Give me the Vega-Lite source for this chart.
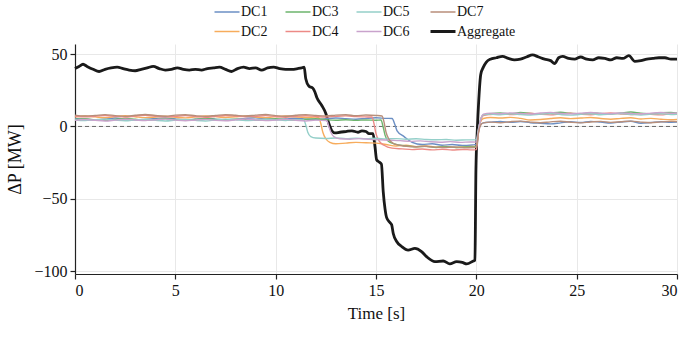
{
  "$schema": "https://vega.github.io/schema/vega-lite/v6.json",
  "width": 602,
  "height": 230,
  "autosize": {"type": "none"},
  "padding": {"left": 75, "top": 44, "right": 13, "bottom": 76},
  "background": "white",
  "datasets": {
    "power": [
      {"t":0,"s":"Aggregate","v":40},{"t":0.2,"s":"Aggregate","v":41.5},{"t":0.4,"s":"Aggregate","v":43},{"t":0.6,"s":"Aggregate","v":41.5},{"t":0.9,"s":"Aggregate","v":39.5},{"t":1.2,"s":"Aggregate","v":38},{"t":1.5,"s":"Aggregate","v":39.5},{"t":1.8,"s":"Aggregate","v":40.5},{"t":2.1,"s":"Aggregate","v":41},{"t":2.4,"s":"Aggregate","v":40},{"t":2.7,"s":"Aggregate","v":39},{"t":3.0,"s":"Aggregate","v":38.5},{"t":3.3,"s":"Aggregate","v":39.5},{"t":3.6,"s":"Aggregate","v":40.5},{"t":3.9,"s":"Aggregate","v":41.5},{"t":4.2,"s":"Aggregate","v":40},{"t":4.5,"s":"Aggregate","v":39},{"t":4.8,"s":"Aggregate","v":39.5},{"t":5.1,"s":"Aggregate","v":40.5},{"t":5.4,"s":"Aggregate","v":39.5},{"t":5.7,"s":"Aggregate","v":39},{"t":6.0,"s":"Aggregate","v":39.5},{"t":6.3,"s":"Aggregate","v":39},{"t":6.6,"s":"Aggregate","v":40},{"t":6.9,"s":"Aggregate","v":40.5},{"t":7.2,"s":"Aggregate","v":41},{"t":7.5,"s":"Aggregate","v":39.5},{"t":7.8,"s":"Aggregate","v":38},{"t":8.1,"s":"Aggregate","v":40},{"t":8.4,"s":"Aggregate","v":41},{"t":8.7,"s":"Aggregate","v":40},{"t":9.0,"s":"Aggregate","v":40.5},{"t":9.3,"s":"Aggregate","v":39},{"t":9.6,"s":"Aggregate","v":40.5},{"t":9.9,"s":"Aggregate","v":41},{"t":10.2,"s":"Aggregate","v":40},{"t":10.5,"s":"Aggregate","v":39.5},{"t":10.8,"s":"Aggregate","v":39.5},{"t":11.1,"s":"Aggregate","v":40},{"t":11.3,"s":"Aggregate","v":40.5},{"t":11.42,"s":"Aggregate","v":41},{"t":11.5,"s":"Aggregate","v":33},{"t":11.65,"s":"Aggregate","v":28},{"t":11.85,"s":"Aggregate","v":26.5},{"t":11.95,"s":"Aggregate","v":24},{"t":12.05,"s":"Aggregate","v":20},{"t":12.3,"s":"Aggregate","v":14.5},{"t":12.5,"s":"Aggregate","v":9},{"t":12.65,"s":"Aggregate","v":2},{"t":12.8,"s":"Aggregate","v":-3},{"t":12.95,"s":"Aggregate","v":-4.5},{"t":13.2,"s":"Aggregate","v":-4},{"t":13.5,"s":"Aggregate","v":-3.5},{"t":13.8,"s":"Aggregate","v":-3},{"t":14.1,"s":"Aggregate","v":-4},{"t":14.3,"s":"Aggregate","v":-3},{"t":14.5,"s":"Aggregate","v":-3.5},{"t":14.65,"s":"Aggregate","v":-5},{"t":14.85,"s":"Aggregate","v":-5},{"t":14.95,"s":"Aggregate","v":-14},{"t":15.03,"s":"Aggregate","v":-23},{"t":15.15,"s":"Aggregate","v":-24.5},{"t":15.27,"s":"Aggregate","v":-26},{"t":15.36,"s":"Aggregate","v":-45},{"t":15.45,"s":"Aggregate","v":-57},{"t":15.53,"s":"Aggregate","v":-63},{"t":15.7,"s":"Aggregate","v":-66.5},{"t":15.78,"s":"Aggregate","v":-68},{"t":15.86,"s":"Aggregate","v":-74},{"t":16.03,"s":"Aggregate","v":-79.5},{"t":16.28,"s":"Aggregate","v":-83},{"t":16.6,"s":"Aggregate","v":-85.5},{"t":16.94,"s":"Aggregate","v":-84.3},{"t":17.27,"s":"Aggregate","v":-86.5},{"t":17.52,"s":"Aggregate","v":-90},{"t":17.94,"s":"Aggregate","v":-93.5},{"t":18.35,"s":"Aggregate","v":-93},{"t":18.68,"s":"Aggregate","v":-95},{"t":19.02,"s":"Aggregate","v":-93.5},{"t":19.3,"s":"Aggregate","v":-94},{"t":19.52,"s":"Aggregate","v":-95},{"t":19.85,"s":"Aggregate","v":-93},{"t":19.93,"s":"Aggregate","v":-92.5},{"t":19.98,"s":"Aggregate","v":-30},{"t":20.05,"s":"Aggregate","v":-2},{"t":20.12,"s":"Aggregate","v":18},{"t":20.22,"s":"Aggregate","v":36},{"t":20.35,"s":"Aggregate","v":41},{"t":20.5,"s":"Aggregate","v":44.5},{"t":20.7,"s":"Aggregate","v":46.5},{"t":21.0,"s":"Aggregate","v":47.5},{"t":21.3,"s":"Aggregate","v":48.5},{"t":21.6,"s":"Aggregate","v":47},{"t":21.9,"s":"Aggregate","v":46},{"t":22.2,"s":"Aggregate","v":46.5},{"t":22.5,"s":"Aggregate","v":48},{"t":22.8,"s":"Aggregate","v":49.5},{"t":23.1,"s":"Aggregate","v":48},{"t":23.4,"s":"Aggregate","v":46.5},{"t":23.7,"s":"Aggregate","v":45.5},{"t":23.9,"s":"Aggregate","v":43.5},{"t":24.1,"s":"Aggregate","v":47.5},{"t":24.3,"s":"Aggregate","v":48.5},{"t":24.6,"s":"Aggregate","v":47},{"t":24.9,"s":"Aggregate","v":46.5},{"t":25.2,"s":"Aggregate","v":48},{"t":25.5,"s":"Aggregate","v":46.5},{"t":25.8,"s":"Aggregate","v":46},{"t":26.1,"s":"Aggregate","v":47.5},{"t":26.4,"s":"Aggregate","v":47},{"t":26.7,"s":"Aggregate","v":46},{"t":27.0,"s":"Aggregate","v":47.5},{"t":27.3,"s":"Aggregate","v":47},{"t":27.6,"s":"Aggregate","v":49},{"t":27.9,"s":"Aggregate","v":45},{"t":28.2,"s":"Aggregate","v":45.5},{"t":28.5,"s":"Aggregate","v":46.5},{"t":28.8,"s":"Aggregate","v":47},{"t":29.1,"s":"Aggregate","v":47.5},{"t":29.4,"s":"Aggregate","v":47.5},{"t":29.7,"s":"Aggregate","v":46.5},{"t":30,"s":"Aggregate","v":46.5},

      {"t":0,"s":"DC1","v":5.5},{"t":0.5,"s":"DC1","v":5},{"t":1,"s":"DC1","v":4.5},{"t":1.5,"s":"DC1","v":5.2},{"t":2,"s":"DC1","v":5.8},{"t":2.5,"s":"DC1","v":5},{"t":3,"s":"DC1","v":4.4},{"t":3.5,"s":"DC1","v":4.8},{"t":4,"s":"DC1","v":5.5},{"t":4.5,"s":"DC1","v":5.9},{"t":5,"s":"DC1","v":5.2},{"t":5.5,"s":"DC1","v":4.6},{"t":6,"s":"DC1","v":5},{"t":6.5,"s":"DC1","v":5.6},{"t":7,"s":"DC1","v":5.1},{"t":7.5,"s":"DC1","v":4.5},{"t":8,"s":"DC1","v":4.9},{"t":8.5,"s":"DC1","v":5.6},{"t":9,"s":"DC1","v":6},{"t":9.5,"s":"DC1","v":5.3},{"t":10,"s":"DC1","v":4.8},{"t":10.5,"s":"DC1","v":5.2},{"t":11,"s":"DC1","v":5.7},{"t":11.5,"s":"DC1","v":5.1},{"t":12,"s":"DC1","v":4.7},{"t":12.5,"s":"DC1","v":5.3},{"t":13,"s":"DC1","v":5.8},{"t":13.5,"s":"DC1","v":5.4},{"t":14,"s":"DC1","v":5},{"t":14.5,"s":"DC1","v":5.6},{"t":15,"s":"DC1","v":6},{"t":15.5,"s":"DC1","v":5.6},{"t":15.8,"s":"DC1","v":5.5},{"t":15.95,"s":"DC1","v":1},{"t":16.05,"s":"DC1","v":-3},{"t":16.4,"s":"DC1","v":-7},{"t":16.8,"s":"DC1","v":-11},{"t":17.3,"s":"DC1","v":-12.5},{"t":17.8,"s":"DC1","v":-12},{"t":18.3,"s":"DC1","v":-13},{"t":18.8,"s":"DC1","v":-12.5},{"t":19.3,"s":"DC1","v":-13.2},{"t":19.8,"s":"DC1","v":-12.8},{"t":20,"s":"DC1","v":-12.5},{"t":20.1,"s":"DC1","v":-4},{"t":20.2,"s":"DC1","v":1},{"t":20.35,"s":"DC1","v":2.5},{"t":20.7,"s":"DC1","v":3},{"t":21.2,"s":"DC1","v":3.5},{"t":21.7,"s":"DC1","v":2.8},{"t":22.2,"s":"DC1","v":3.4},{"t":22.7,"s":"DC1","v":2.6},{"t":23.2,"s":"DC1","v":2.2},{"t":23.7,"s":"DC1","v":1.8},{"t":24.2,"s":"DC1","v":2.5},{"t":24.7,"s":"DC1","v":3.2},{"t":25.2,"s":"DC1","v":2.7},{"t":25.7,"s":"DC1","v":3.5},{"t":26.2,"s":"DC1","v":3},{"t":26.7,"s":"DC1","v":2.4},{"t":27.2,"s":"DC1","v":3.1},{"t":27.7,"s":"DC1","v":3.6},{"t":28.2,"s":"DC1","v":2.2},{"t":28.7,"s":"DC1","v":2.7},{"t":29.2,"s":"DC1","v":3.3},{"t":29.7,"s":"DC1","v":2.9},{"t":30,"s":"DC1","v":3},

      {"t":0,"s":"DC2","v":6.5},{"t":0.5,"s":"DC2","v":7.2},{"t":1,"s":"DC2","v":6.6},{"t":1.5,"s":"DC2","v":6},{"t":2,"s":"DC2","v":6.8},{"t":2.5,"s":"DC2","v":7.4},{"t":3,"s":"DC2","v":6.7},{"t":3.5,"s":"DC2","v":6.1},{"t":4,"s":"DC2","v":6.5},{"t":4.5,"s":"DC2","v":7.1},{"t":5,"s":"DC2","v":6.4},{"t":5.5,"s":"DC2","v":5.9},{"t":6,"s":"DC2","v":6.6},{"t":6.5,"s":"DC2","v":7.3},{"t":7,"s":"DC2","v":6.8},{"t":7.5,"s":"DC2","v":6.2},{"t":8,"s":"DC2","v":6.7},{"t":8.5,"s":"DC2","v":7.2},{"t":9,"s":"DC2","v":6.5},{"t":9.5,"s":"DC2","v":6},{"t":10,"s":"DC2","v":6.8},{"t":10.5,"s":"DC2","v":7.3},{"t":11,"s":"DC2","v":6.6},{"t":11.5,"s":"DC2","v":6.2},{"t":12,"s":"DC2","v":6.5},{"t":12.15,"s":"DC2","v":6},{"t":12.25,"s":"DC2","v":2},{"t":12.35,"s":"DC2","v":-4},{"t":12.5,"s":"DC2","v":-8.5},{"t":12.7,"s":"DC2","v":-11},{"t":13,"s":"DC2","v":-12},{"t":13.5,"s":"DC2","v":-11.5},{"t":14,"s":"DC2","v":-11},{"t":14.5,"s":"DC2","v":-11.3},{"t":15,"s":"DC2","v":-11.5},{"t":15.5,"s":"DC2","v":-12.5},{"t":16,"s":"DC2","v":-13.5},{"t":16.5,"s":"DC2","v":-13},{"t":17,"s":"DC2","v":-14},{"t":17.5,"s":"DC2","v":-13.5},{"t":18,"s":"DC2","v":-14.3},{"t":18.5,"s":"DC2","v":-13.8},{"t":19,"s":"DC2","v":-14.5},{"t":19.5,"s":"DC2","v":-14},{"t":20,"s":"DC2","v":-13.8},{"t":20.1,"s":"DC2","v":-3},{"t":20.2,"s":"DC2","v":3},{"t":20.35,"s":"DC2","v":5.5},{"t":20.7,"s":"DC2","v":6.2},{"t":21.2,"s":"DC2","v":5.8},{"t":21.7,"s":"DC2","v":6.3},{"t":22.2,"s":"DC2","v":5.6},{"t":22.7,"s":"DC2","v":4.5},{"t":23.2,"s":"DC2","v":4.8},{"t":23.7,"s":"DC2","v":5.5},{"t":24.2,"s":"DC2","v":6},{"t":24.7,"s":"DC2","v":5.4},{"t":25.2,"s":"DC2","v":5.8},{"t":25.7,"s":"DC2","v":6.2},{"t":26.2,"s":"DC2","v":5.5},{"t":26.7,"s":"DC2","v":5},{"t":27.2,"s":"DC2","v":5.6},{"t":27.7,"s":"DC2","v":6},{"t":28.2,"s":"DC2","v":5.2},{"t":28.7,"s":"DC2","v":5.6},{"t":29.2,"s":"DC2","v":5},{"t":29.7,"s":"DC2","v":4.6},{"t":30,"s":"DC2","v":4.8},

      {"t":0,"s":"DC3","v":4.8},{"t":0.5,"s":"DC3","v":5.3},{"t":1,"s":"DC3","v":4.6},{"t":1.5,"s":"DC3","v":4.2},{"t":2,"s":"DC3","v":4.9},{"t":2.5,"s":"DC3","v":5.5},{"t":3,"s":"DC3","v":5},{"t":3.5,"s":"DC3","v":4.4},{"t":4,"s":"DC3","v":4.8},{"t":4.5,"s":"DC3","v":5.4},{"t":5,"s":"DC3","v":4.7},{"t":5.5,"s":"DC3","v":4.3},{"t":6,"s":"DC3","v":5},{"t":6.5,"s":"DC3","v":5.6},{"t":7,"s":"DC3","v":4.9},{"t":7.5,"s":"DC3","v":4.5},{"t":8,"s":"DC3","v":5.1},{"t":8.5,"s":"DC3","v":4.6},{"t":9,"s":"DC3","v":4.2},{"t":9.5,"s":"DC3","v":4.9},{"t":10,"s":"DC3","v":5.4},{"t":10.5,"s":"DC3","v":4.8},{"t":11,"s":"DC3","v":4.4},{"t":11.5,"s":"DC3","v":5},{"t":12,"s":"DC3","v":5.3},{"t":12.5,"s":"DC3","v":4.7},{"t":13,"s":"DC3","v":4.3},{"t":13.5,"s":"DC3","v":4.6},{"t":14,"s":"DC3","v":4.2},{"t":14.5,"s":"DC3","v":4.5},{"t":15,"s":"DC3","v":4.3},{"t":15.25,"s":"DC3","v":4.5},{"t":15.35,"s":"DC3","v":0},{"t":15.45,"s":"DC3","v":-6},{"t":15.6,"s":"DC3","v":-10},{"t":15.9,"s":"DC3","v":-12},{"t":16.5,"s":"DC3","v":-13.5},{"t":17,"s":"DC3","v":-14},{"t":17.5,"s":"DC3","v":-13.8},{"t":18,"s":"DC3","v":-14.5},{"t":18.5,"s":"DC3","v":-14},{"t":19,"s":"DC3","v":-14.6},{"t":19.5,"s":"DC3","v":-14.2},{"t":20,"s":"DC3","v":-14},{"t":20.1,"s":"DC3","v":-4},{"t":20.2,"s":"DC3","v":4},{"t":20.35,"s":"DC3","v":8},{"t":20.7,"s":"DC3","v":8.8},{"t":21.2,"s":"DC3","v":9.3},{"t":21.7,"s":"DC3","v":8.7},{"t":22.2,"s":"DC3","v":9.6},{"t":22.7,"s":"DC3","v":9},{"t":23.2,"s":"DC3","v":8.5},{"t":23.7,"s":"DC3","v":9.2},{"t":24.2,"s":"DC3","v":9.8},{"t":24.7,"s":"DC3","v":9.1},{"t":25.2,"s":"DC3","v":8.7},{"t":25.7,"s":"DC3","v":9.4},{"t":26.2,"s":"DC3","v":9},{"t":26.7,"s":"DC3","v":8.6},{"t":27.2,"s":"DC3","v":9.3},{"t":27.7,"s":"DC3","v":10},{"t":28.2,"s":"DC3","v":9.2},{"t":28.7,"s":"DC3","v":8.8},{"t":29.2,"s":"DC3","v":9.5},{"t":29.7,"s":"DC3","v":9.7},{"t":30,"s":"DC3","v":9.3},

      {"t":0,"s":"DC4","v":7.2},{"t":0.5,"s":"DC4","v":6.6},{"t":1,"s":"DC4","v":7.1},{"t":1.5,"s":"DC4","v":7.6},{"t":2,"s":"DC4","v":7},{"t":2.5,"s":"DC4","v":6.5},{"t":3,"s":"DC4","v":7.2},{"t":3.5,"s":"DC4","v":7.7},{"t":4,"s":"DC4","v":7.1},{"t":4.5,"s":"DC4","v":6.6},{"t":5,"s":"DC4","v":7},{"t":5.5,"s":"DC4","v":7.5},{"t":6,"s":"DC4","v":6.9},{"t":6.5,"s":"DC4","v":6.4},{"t":7,"s":"DC4","v":7},{"t":7.5,"s":"DC4","v":7.6},{"t":8,"s":"DC4","v":7.2},{"t":8.5,"s":"DC4","v":6.7},{"t":9,"s":"DC4","v":7.1},{"t":9.5,"s":"DC4","v":7.5},{"t":10,"s":"DC4","v":6.8},{"t":10.5,"s":"DC4","v":6.4},{"t":11,"s":"DC4","v":7},{"t":11.5,"s":"DC4","v":7.4},{"t":12,"s":"DC4","v":6.9},{"t":12.5,"s":"DC4","v":6.5},{"t":13,"s":"DC4","v":7},{"t":13.5,"s":"DC4","v":7.3},{"t":14,"s":"DC4","v":6.8},{"t":14.5,"s":"DC4","v":6.6},{"t":14.8,"s":"DC4","v":6.5},{"t":14.9,"s":"DC4","v":2},{"t":15,"s":"DC4","v":-5},{"t":15.15,"s":"DC4","v":-10},{"t":15.4,"s":"DC4","v":-13},{"t":15.8,"s":"DC4","v":-15},{"t":16.3,"s":"DC4","v":-15.5},{"t":16.8,"s":"DC4","v":-16},{"t":17.3,"s":"DC4","v":-15.6},{"t":17.8,"s":"DC4","v":-16.2},{"t":18.3,"s":"DC4","v":-15.8},{"t":18.8,"s":"DC4","v":-16.3},{"t":19.3,"s":"DC4","v":-15.9},{"t":19.8,"s":"DC4","v":-16.2},{"t":20,"s":"DC4","v":-16},{"t":20.1,"s":"DC4","v":-5},{"t":20.2,"s":"DC4","v":3},{"t":20.35,"s":"DC4","v":7.5},{"t":20.7,"s":"DC4","v":8.3},{"t":21.2,"s":"DC4","v":8.8},{"t":21.7,"s":"DC4","v":8.2},{"t":22.2,"s":"DC4","v":8.6},{"t":22.7,"s":"DC4","v":9.1},{"t":23.2,"s":"DC4","v":8.4},{"t":23.7,"s":"DC4","v":8},{"t":24.2,"s":"DC4","v":8.7},{"t":24.7,"s":"DC4","v":9.2},{"t":25.2,"s":"DC4","v":8.5},{"t":25.7,"s":"DC4","v":8.1},{"t":26.2,"s":"DC4","v":8.8},{"t":26.7,"s":"DC4","v":9.3},{"t":27.2,"s":"DC4","v":8.6},{"t":27.7,"s":"DC4","v":8.2},{"t":28.2,"s":"DC4","v":8.9},{"t":28.7,"s":"DC4","v":8.4},{"t":29.2,"s":"DC4","v":8},{"t":29.7,"s":"DC4","v":8.7},{"t":30,"s":"DC4","v":8.5},

      {"t":0,"s":"DC5","v":4.5},{"t":0.5,"s":"DC5","v":4},{"t":1,"s":"DC5","v":4.6},{"t":1.5,"s":"DC5","v":5.1},{"t":2,"s":"DC5","v":4.4},{"t":2.5,"s":"DC5","v":3.9},{"t":3,"s":"DC5","v":4.5},{"t":3.5,"s":"DC5","v":5},{"t":4,"s":"DC5","v":4.3},{"t":4.5,"s":"DC5","v":3.8},{"t":5,"s":"DC5","v":4.4},{"t":5.5,"s":"DC5","v":4.9},{"t":6,"s":"DC5","v":4.2},{"t":6.5,"s":"DC5","v":3.8},{"t":7,"s":"DC5","v":4.5},{"t":7.5,"s":"DC5","v":5.1},{"t":8,"s":"DC5","v":4.6},{"t":8.5,"s":"DC5","v":4},{"t":9,"s":"DC5","v":4.4},{"t":9.5,"s":"DC5","v":5},{"t":10,"s":"DC5","v":4.5},{"t":10.5,"s":"DC5","v":4.1},{"t":11,"s":"DC5","v":4.6},{"t":11.4,"s":"DC5","v":4.5},{"t":11.5,"s":"DC5","v":1},{"t":11.6,"s":"DC5","v":-4},{"t":11.75,"s":"DC5","v":-7},{"t":12,"s":"DC5","v":-8},{"t":12.5,"s":"DC5","v":-8.3},{"t":13,"s":"DC5","v":-8},{"t":13.5,"s":"DC5","v":-8.4},{"t":14,"s":"DC5","v":-8.1},{"t":14.5,"s":"DC5","v":-8.5},{"t":15,"s":"DC5","v":-8.2},{"t":15.5,"s":"DC5","v":-8.6},{"t":16,"s":"DC5","v":-8.4},{"t":16.5,"s":"DC5","v":-8.8},{"t":17,"s":"DC5","v":-8.5},{"t":17.5,"s":"DC5","v":-9},{"t":18,"s":"DC5","v":-9.2},{"t":18.5,"s":"DC5","v":-9},{"t":19,"s":"DC5","v":-9.5},{"t":19.5,"s":"DC5","v":-9.3},{"t":20,"s":"DC5","v":-9.2},{"t":20.1,"s":"DC5","v":-2},{"t":20.2,"s":"DC5","v":4},{"t":20.35,"s":"DC5","v":8},{"t":20.7,"s":"DC5","v":8.5},{"t":21.2,"s":"DC5","v":8.1},{"t":21.7,"s":"DC5","v":8.7},{"t":22.2,"s":"DC5","v":8.3},{"t":22.7,"s":"DC5","v":7.9},{"t":23.2,"s":"DC5","v":8.5},{"t":23.7,"s":"DC5","v":8.9},{"t":24.2,"s":"DC5","v":8.2},{"t":24.7,"s":"DC5","v":7.8},{"t":25.2,"s":"DC5","v":8.4},{"t":25.7,"s":"DC5","v":8.8},{"t":26.2,"s":"DC5","v":8.1},{"t":26.7,"s":"DC5","v":8.5},{"t":27.2,"s":"DC5","v":8.9},{"t":27.7,"s":"DC5","v":8.3},{"t":28.2,"s":"DC5","v":7.9},{"t":28.7,"s":"DC5","v":8.5},{"t":29.2,"s":"DC5","v":8.8},{"t":29.7,"s":"DC5","v":8.2},{"t":30,"s":"DC5","v":8.4},

      {"t":0,"s":"DC6","v":4.2},{"t":0.5,"s":"DC6","v":4.8},{"t":1,"s":"DC6","v":4.3},{"t":1.5,"s":"DC6","v":3.8},{"t":2,"s":"DC6","v":4.4},{"t":2.5,"s":"DC6","v":5},{"t":3,"s":"DC6","v":4.5},{"t":3.5,"s":"DC6","v":4},{"t":4,"s":"DC6","v":4.6},{"t":4.5,"s":"DC6","v":5.1},{"t":5,"s":"DC6","v":4.4},{"t":5.5,"s":"DC6","v":3.9},{"t":6,"s":"DC6","v":4.5},{"t":6.5,"s":"DC6","v":4.9},{"t":7,"s":"DC6","v":4.2},{"t":7.5,"s":"DC6","v":3.9},{"t":8,"s":"DC6","v":4.6},{"t":8.5,"s":"DC6","v":5.2},{"t":9,"s":"DC6","v":4.5},{"t":9.5,"s":"DC6","v":4},{"t":10,"s":"DC6","v":4.4},{"t":10.5,"s":"DC6","v":4.9},{"t":11,"s":"DC6","v":4.3},{"t":11.5,"s":"DC6","v":3.8},{"t":12,"s":"DC6","v":4.4},{"t":12.55,"s":"DC6","v":4},{"t":12.65,"s":"DC6","v":0},{"t":12.75,"s":"DC6","v":-4},{"t":12.9,"s":"DC6","v":-7},{"t":13.2,"s":"DC6","v":-8.5},{"t":13.7,"s":"DC6","v":-8.8},{"t":14.2,"s":"DC6","v":-8.4},{"t":14.7,"s":"DC6","v":-8.9},{"t":15.2,"s":"DC6","v":-9.2},{"t":15.7,"s":"DC6","v":-9.5},{"t":16.2,"s":"DC6","v":-9.8},{"t":16.7,"s":"DC6","v":-10.3},{"t":17.2,"s":"DC6","v":-10},{"t":17.7,"s":"DC6","v":-10.6},{"t":18.2,"s":"DC6","v":-10.9},{"t":18.7,"s":"DC6","v":-10.5},{"t":19.2,"s":"DC6","v":-11},{"t":19.7,"s":"DC6","v":-10.7},{"t":20,"s":"DC6","v":-10.8},{"t":20.1,"s":"DC6","v":-3},{"t":20.2,"s":"DC6","v":4},{"t":20.35,"s":"DC6","v":8.5},{"t":20.7,"s":"DC6","v":9.2},{"t":21.2,"s":"DC6","v":8.8},{"t":21.7,"s":"DC6","v":9.4},{"t":22.2,"s":"DC6","v":9},{"t":22.7,"s":"DC6","v":8.6},{"t":23.2,"s":"DC6","v":9.3},{"t":23.7,"s":"DC6","v":9.7},{"t":24.2,"s":"DC6","v":9},{"t":24.7,"s":"DC6","v":8.7},{"t":25.2,"s":"DC6","v":9.2},{"t":25.7,"s":"DC6","v":9.6},{"t":26.2,"s":"DC6","v":9.1},{"t":26.7,"s":"DC6","v":8.8},{"t":27.2,"s":"DC6","v":9.4},{"t":27.7,"s":"DC6","v":9},{"t":28.2,"s":"DC6","v":8.6},{"t":28.7,"s":"DC6","v":9.2},{"t":29.2,"s":"DC6","v":9.6},{"t":29.7,"s":"DC6","v":9.1},{"t":30,"s":"DC6","v":9.3},

      {"t":0,"s":"DC7","v":7.8},{"t":0.5,"s":"DC7","v":7.2},{"t":1,"s":"DC7","v":7.6},{"t":1.5,"s":"DC7","v":8.2},{"t":2,"s":"DC7","v":7.5},{"t":2.5,"s":"DC7","v":7},{"t":3,"s":"DC7","v":7.7},{"t":3.5,"s":"DC7","v":8.3},{"t":4,"s":"DC7","v":7.6},{"t":4.5,"s":"DC7","v":7.1},{"t":5,"s":"DC7","v":7.8},{"t":5.5,"s":"DC7","v":8.1},{"t":6,"s":"DC7","v":7.4},{"t":6.5,"s":"DC7","v":7},{"t":7,"s":"DC7","v":7.6},{"t":7.5,"s":"DC7","v":8.2},{"t":8,"s":"DC7","v":7.7},{"t":8.5,"s":"DC7","v":7.2},{"t":9,"s":"DC7","v":7.8},{"t":9.5,"s":"DC7","v":8.3},{"t":10,"s":"DC7","v":7.5},{"t":10.5,"s":"DC7","v":7.1},{"t":11,"s":"DC7","v":7.7},{"t":11.5,"s":"DC7","v":8.2},{"t":12,"s":"DC7","v":7.6},{"t":12.5,"s":"DC7","v":7.2},{"t":13,"s":"DC7","v":7.8},{"t":13.5,"s":"DC7","v":8.1},{"t":14,"s":"DC7","v":7.4},{"t":14.5,"s":"DC7","v":7.9},{"t":15,"s":"DC7","v":7.6},{"t":15.3,"s":"DC7","v":7.2},{"t":15.4,"s":"DC7","v":3},{"t":15.5,"s":"DC7","v":-4},{"t":15.65,"s":"DC7","v":-9},{"t":15.9,"s":"DC7","v":-12},{"t":16.4,"s":"DC7","v":-13.5},{"t":16.9,"s":"DC7","v":-14},{"t":17.4,"s":"DC7","v":-13.7},{"t":17.9,"s":"DC7","v":-14.3},{"t":18.4,"s":"DC7","v":-14.6},{"t":18.9,"s":"DC7","v":-14.2},{"t":19.4,"s":"DC7","v":-14.8},{"t":19.9,"s":"DC7","v":-14.5},{"t":20,"s":"DC7","v":-14.4},{"t":20.1,"s":"DC7","v":-5},{"t":20.2,"s":"DC7","v":0.5},{"t":20.35,"s":"DC7","v":2.5},{"t":20.7,"s":"DC7","v":3},{"t":21.2,"s":"DC7","v":2.6},{"t":21.7,"s":"DC7","v":3.3},{"t":22.2,"s":"DC7","v":3.7},{"t":22.7,"s":"DC7","v":3},{"t":23.2,"s":"DC7","v":2.6},{"t":23.7,"s":"DC7","v":3.2},{"t":24.2,"s":"DC7","v":3.6},{"t":24.7,"s":"DC7","v":2.9},{"t":25.2,"s":"DC7","v":2.5},{"t":25.7,"s":"DC7","v":3.1},{"t":26.2,"s":"DC7","v":3.5},{"t":26.7,"s":"DC7","v":2.8},{"t":27.2,"s":"DC7","v":3.3},{"t":27.7,"s":"DC7","v":3.7},{"t":28.2,"s":"DC7","v":3},{"t":28.7,"s":"DC7","v":2.6},{"t":29.2,"s":"DC7","v":3.2},{"t":29.7,"s":"DC7","v":3.5},{"t":30,"s":"DC7","v":3.3}
    ]
  },
  "layer": [
    {
      "data": {"values": [{"ref": 0}]},
      "mark": {"type": "rule", "color": "#666666", "strokeWidth": 1, "strokeDash": [4, 3]},
      "encoding": {"y": {"field": "ref", "type": "quantitative"}}
    },
    {
      "data": {"name": "power"},
      "mark": {"type": "line", "interpolate": "monotone"},
      "encoding": {
        "x": {
          "field": "t", "type": "quantitative",
          "scale": {"domain": [0, 30], "nice": false, "zero": false},
          "axis": {
            "title": "Time [s]", "values": [0, 5, 10, 15, 20, 25, 30], "grid": true,
            "titlePadding": 7,
            "labelFont": "Liberation Serif", "titleFont": "Liberation Serif"
          }
        },
        "y": {
          "field": "v", "type": "quantitative",
          "scale": {"domain": [-102, 57], "nice": false, "zero": false},
          "axis": {
            "title": "ΔP [MW]", "values": [-100, -50, 0, 50], "grid": true,
            "titleFontSize": 18, "titlePadding": 9,
            "labelFont": "Liberation Serif", "titleFont": "Liberation Serif"
          }
        },
        "color": {
          "field": "s", "type": "nominal",
          "scale": {
            "domain": ["DC1", "DC3", "DC5", "DC7", "DC2", "DC4", "DC6", "Aggregate"],
            "range": ["#6b8fc4", "#6db56d", "#94cfc9", "#b88e7a", "#f7ac5c", "#ec8a86", "#c9a3cc", "#1a1a1a"]
          },
          "legend": {
            "title": null, "orient": "none", "legendX": 145, "legendY": -39,
            "direction": "horizontal", "columns": 4, "symbolType": "stroke", "symbolSize": 625,
            "labelFont": "Liberation Serif", "labelFontSize": 14, "labelOffset": 7,
            "columnPadding": 14, "rowPadding": 5.5,
            "encode": {
              "symbols": {"update": {"strokeWidth": {"signal": "datum.value === 'Aggregate' ? 3 : 1.5"}}}
            }
          }
        },
        "strokeWidth": {
          "condition": {"test": "datum.s === 'Aggregate'", "value": 2.8},
          "value": 1.4
        },
        "order": {"field": "t", "type": "quantitative"}
      }
    }
  ],
  "config": {
    "font": "Liberation Serif",
    "view": {"stroke": null},
    "axis": {
      "domainColor": "#222222", "tickColor": "#222222", "gridColor": "#e8e8e8",
      "labelColor": "#111111", "titleColor": "#111111", "labelFontSize": 16,
      "titleFontSize": 17, "titleFontWeight": "normal", "tickSize": 5, "labelPadding": 3,
      "domainWidth": 1.2, "tickWidth": 1.2
    },
    "legend": {"labelColor": "#111111"}
  }
}
